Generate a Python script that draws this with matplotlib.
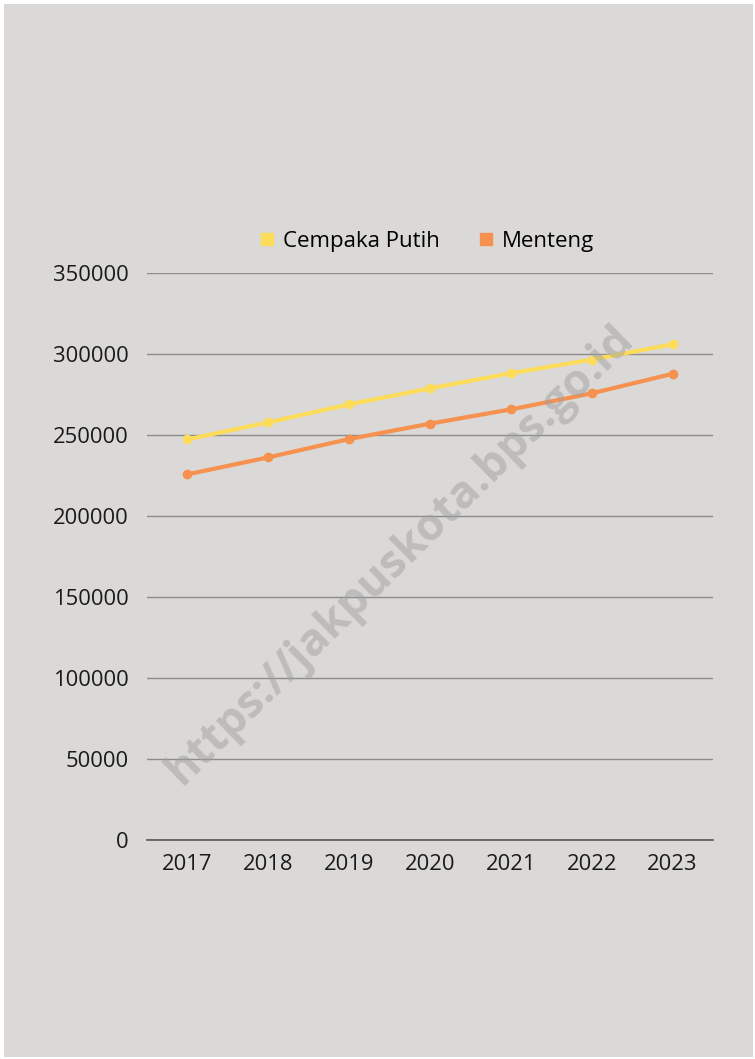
import matplotlib
matplotlib.use("Agg")
import matplotlib.pyplot as plt
from matplotlib.lines import Line2D
from matplotlib.patches import Rectangle

plt.rcParams['font.family'] = ['Open Sans', 'DejaVu Sans']

years = ['2017', '2018', '2019', '2020', '2021', '2022', '2023']
cempaka_putih = [247300, 257800, 268900, 278800, 288100, 296500, 306000]
menteng = [225700, 236200, 247500, 257000, 265800, 275700, 287800]
yticks = [0, 50000, 100000, 150000, 200000, 250000, 300000, 350000]

bg = '#dad9d7'
yellow = '#fddc5a'
orange = '#f6914f'

fig = plt.figure(figsize=(7.55, 10.59), dpi=100, facecolor='white')
fig.patches.append(Rectangle((4 / 755, 2 / 1059), 749 / 755, 1053 / 1059,
                             transform=fig.transFigure, facecolor=bg,
                             edgecolor='none', zorder=-5))

ax = fig.add_axes([147 / 755, 219 / 1059, 566 / 755, 567 / 1059])
ax.patch.set_alpha(0)

x = range(len(years))
ax.plot(x, cempaka_putih, color=yellow, lw=3, marker='o', ms=6, zorder=3)
ax.plot(x, menteng, color=orange, lw=3, marker='o', ms=6, zorder=3)

ax.set_xlim(-0.5, len(years) - 0.5)
ax.set_ylim(0, 350000)
ax.set_yticks(yticks)
ax.set_yticklabels([str(v) for v in yticks])
ax.set_xticks(list(x))
ax.set_xticklabels(years)
ax.yaxis.grid(True, color='#8c8c8c', lw=1)
ax.set_axisbelow(True)
for s in ['top', 'right', 'left']:
    ax.spines[s].set_visible(False)
ax.spines['bottom'].set_color('#555555')
ax.spines['bottom'].set_linewidth(1.2)
ax.tick_params(axis='both', length=0, labelsize=15.8, colors='#1a1a1a')
ax.tick_params(axis='y', pad=13)
ax.tick_params(axis='x', pad=10)

handles = [Line2D([], [], color=yellow, marker='s', ls='none', ms=8),
           Line2D([], [], color=orange, marker='s', ls='none', ms=8)]
fig.legend(handles, ['Cempaka Putih', 'Menteng'], loc='center',
           bbox_to_anchor=(425 / 755, 1 - 241 / 1059), ncol=2, frameon=False,
           fontsize=16, handletextpad=0.25, columnspacing=1.55,
           handlelength=1.0)

fig.text(400 / 755, 1 - 555 / 1059, 'https://jakpuskota.bps.go.id',
         rotation=44.5, ha='center', va='center', fontsize=32.5,
         fontweight='bold', color='#a0a0a0', alpha=0.5, zorder=10)

fig.savefig('out.png', dpi=100, facecolor='white')
